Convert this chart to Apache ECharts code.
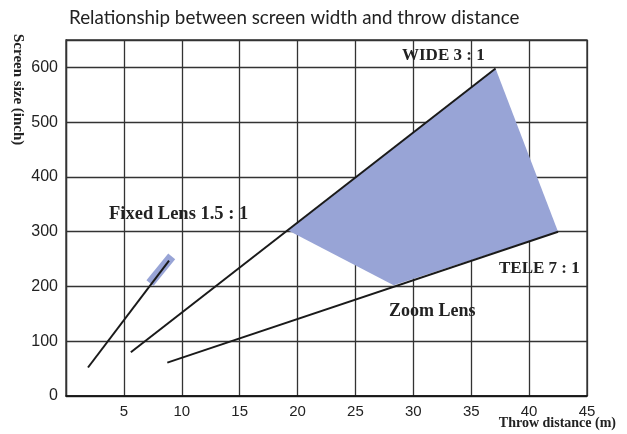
<!DOCTYPE html>
<html>
<head>
<meta charset="utf-8">
<script src="https://cdn.jsdelivr.net/npm/echarts@6/dist/echarts.min.js"></script>
<style>
html,body{margin:0;padding:0;background:#fff;}
#chart{width:627px;height:434px;}
</style>
</head>
<body>
<div id="chart"></div>
<script>
// Data
const titleText = 'Relationship between screen width and throw distance';
const xAxisName = 'Throw distance (m)';
const yAxisName = 'Screen size (inch)';
const fixedLens = [[1.9, 52], [8.9, 247]];
const fixedLensBand = [[7.25, 206], [9.13, 255]];
const wideLine = [[5.6, 80], [37.1, 598]];
const teleLine = [[8.75, 61], [42.5, 300]];
const zoomArea = [[19.2, 302], [37.1, 598], [42.5, 300], [28.3, 202]];
const labelTexts = ['WIDE 3 : 1', 'TELE 7 : 1', 'Zoom Lens', 'Fixed Lens 1.5 : 1'];

const chart = echarts.init(document.getElementById('chart'));
const lineColor = '#1a1a1a';
const gridColor = '#333';
const blue = '#98a4d6';
function serifBold(text, size) {
  return {text: text, fontFamily: '"Liberation Serif", "Times New Roman", serif', fontWeight: 'bold', fontSize: size, fill: '#222'};
}

chart.setOption({
  animation: false,
  backgroundColor: '#fff',
  title: {
    text: titleText, left: 64, top: 3,
    textStyle: {fontFamily: 'Lato, "Noto Sans", sans-serif', fontWeight: 'normal', fontSize: 18.8, color: '#222'}
  },
  grid: {left: 66, right: 40, top: 40, bottom: 38, show: true, borderColor: gridColor, borderWidth: 1.3, containLabel: false},
  xAxis: {
    type: 'value', min: 0, max: 45, interval: 5,
    axisLine: {show: true, onZero: false, lineStyle: {color: '#111', width: 1.5}},
    axisTick: {show: false},
    splitLine: {show: true, lineStyle: {color: gridColor, width: 1.3}},
    axisLabel: {showMinLabel: false, margin: 8, fontSize: 15, color: '#222', fontFamily: '"Liberation Sans", Arial, sans-serif'}
  },
  yAxis: {
    type: 'value', min: 0, max: 650, interval: 100,
    axisLine: {show: true, lineStyle: {color: gridColor, width: 1.3}},
    axisTick: {show: false},
    splitLine: {show: true, lineStyle: {color: gridColor, width: 1.3}},
    axisLabel: {showMaxLabel: false, margin: 8, fontSize: 16, color: '#222', fontFamily: '"Liberation Sans", Arial, sans-serif'}
  },
  series: [
    {
      type: 'custom', coordinateSystem: 'cartesian2d', silent: true, z: 1,
      data: [0],
      renderItem: function (params, api) {
        return {
          type: 'polygon',
          shape: {points: zoomArea.map(p => api.coord(p))},
          style: {fill: blue}
        };
      }
    },
    {type: 'line', data: fixedLensBand, symbol: 'none', z: 2, lineStyle: {color: blue, width: 9, cap: 'butt'}},
    {type: 'line', data: fixedLens, symbol: 'none', z: 3, lineStyle: {color: lineColor, width: 2}},
    {type: 'line', data: wideLine, symbol: 'none', z: 3, lineStyle: {color: lineColor, width: 2}},
    {type: 'line', data: teleLine, symbol: 'none', z: 3, lineStyle: {color: lineColor, width: 2}}
  ],
  graphic: [
    {type: 'text', left: 402, top: 47, z: 10, style: serifBold(labelTexts[0], 17)},
    {type: 'text', left: 499, top: 260, z: 10, style: serifBold(labelTexts[1], 17)},
    {type: 'text', left: 389, top: 302, z: 10, style: serifBold(labelTexts[2], 18)},
    {type: 'text', left: 109, top: 205, z: 10, style: serifBold(labelTexts[3], 18.5)},
    {type: 'text', right: 11, top: 416, z: 10, style: serifBold(xAxisName, 14)},
    {type: 'text', x: 25, y: 34, rotation: -Math.PI / 2, z: 10, style: serifBold(yAxisName, 15)}
  ]
});
</script>
</body>
</html>
